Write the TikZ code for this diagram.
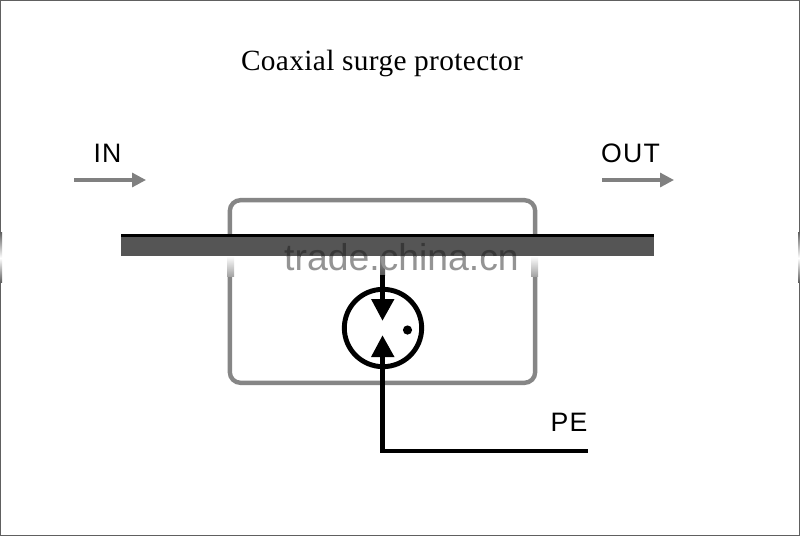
\documentclass[tikz,border=0pt]{standalone}
\usepackage{fontspec}
\setmainfont{Liberation Sans}
\newfontfamily\titlefont[LetterSpace=1.2]{Liberation Serif}
\newfontfamily\labelfont[LetterSpace=5]{Liberation Sans}
\definecolor{boxgray}{HTML}{868686}
\definecolor{bargray}{HTML}{555555}
\definecolor{flowgray}{HTML}{808080}
\definecolor{framegray}{HTML}{606060}
\usetikzlibrary{arrows.meta}
\tikzset{
  x=0.75pt,y=-0.75pt,
  lbl/.style={font=\labelfont\fontsize{20}{24}\selectfont,inner sep=0pt,text=black},
  flow/.style={draw=flowgray,line width=2.4pt,-{Triangle[length=10.5pt,width=10.5pt]}},
  wire/.style={draw=black,line width=3.5pt},
  tip/.style={fill=black,draw=none},
  markfont/.style={inner sep=0pt,anchor=base,font=\fontsize{28}{32}\selectfont},
}
\begin{document}
\begin{tikzpicture}
\useasboundingbox (0,0) rectangle (800,536);
\fill[white] (0,0) rectangle (800,536);
% picture frame
\draw[framegray,line width=1.1pt] (0.6,0.6) rectangle (799.4,535.4);
\shade[top color=framegray,bottom color=white] (0,232) rectangle (2,258);
\shade[top color=white,bottom color=framegray] (0,258) rectangle (2,282);
\shade[top color=framegray,bottom color=white] (798,232) rectangle (800,258);
\shade[top color=white,bottom color=framegray] (798,258) rectangle (800,282);
% protector box
\node[draw=boxgray,line width=3.3pt,rounded corners=8pt,minimum width=229pt,minimum height=137pt,inner sep=0pt] (box) at (382.5,291.5) {};
% conductor
\fill[bargray] (121,234) rectangle (654,256);
\fill[black] (121,233.5) rectangle (654,236.5);
% fade of the box sides below the conductor
\shade[top color=white,bottom color=boxgray!75] (227,256) rectangle (234,276);
\shade[top color=white,bottom color=boxgray!75] (531,256) rectangle (538,276);
% gap
\node[circle,draw=black,line width=3.7pt,minimum size=58pt,inner sep=0pt] (gap) at (383,328) {};
\fill[black] (407.5,330) circle (4.6);
\coordinate (top) at (382.5,275);
\coordinate (upbase) at (382.5,299);
\coordinate (lowbase) at (382.5,357);
\coordinate (corner) at (382.5,451);
\coordinate (pe) at (588,451);
\shade[top color=black!45,bottom color=black!65] (380,256) rectangle (385,275);
\draw[wire] (top) -- (upbase);
\draw[wire] (lowbase) -- (corner) -- (pe);
\fill[tip] (371,299) -- (394.5,299) -- (382.5,320.5) -- cycle;
\fill[tip] (371,357) -- (394.5,357) -- (382.5,335.5) -- cycle;
% watermark
\begin{scope}
\clip (121,236.5) rectangle (654,256);
\node[markfont,text=black!78] (markA) at (401.5,270) {trade.china.cn};
\end{scope}
\begin{scope}
\clip (121,256) rectangle (654,290);
\node[markfont,text=black!42] (markB) at (401.5,270) {trade.china.cn};
\end{scope}
% flow
\coordinate (ina) at (74,180);
\coordinate (inb) at (146,180);
\coordinate (outa) at (602,180);
\coordinate (outb) at (674,180);
\draw[flow] (ina) -- (inb);
\draw[flow] (outa) -- (outb);
% text
\node[inner sep=0pt,anchor=base,font=\titlefont\fontsize{22}{26}\selectfont] (title) at (382,70) {Coaxial surge protector};
\node[lbl] (in) at (107.5,153) {IN};
\node[lbl] (out) at (630.5,153) {OUT};
\node[lbl] (peL) at (569,422) {PE};
\end{tikzpicture}
\end{document}
